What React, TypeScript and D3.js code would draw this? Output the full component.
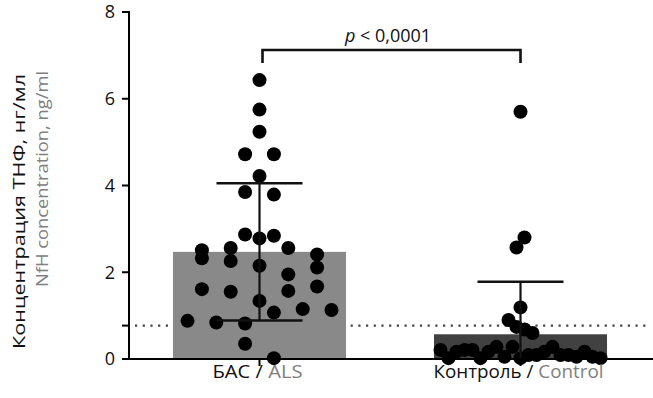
import React from 'react';
import * as d3 from 'd3';

// ---- data ----
const categories = ['ALS', 'Control'];
const labelsRu = ['БАС', 'Контроль'];
const labelsEn = ['ALS', 'Control'];
// individual values, in data-entry order
const alsValues = [
  0.35, 0.02,
  0.88, 0.84, 0.82, 1.07, 1.15, 1.13,
  1.61, 1.55, 1.34, 1.57, 1.67,
  2.32, 2.26, 2.15, 1.95, 2.11,
  2.51, 2.56, 2.78, 2.56, 2.41,
  2.87, 2.84,
  3.85, 3.79,
  4.22,
  4.72, 4.72,
  5.24,
  5.75,
  6.43,
];
const controlValues = [
  0.21, 0.02, 0.17, 0.21, 0.21, 0.02, 0.17, 0.28, 0.05, 0.28, 0.02,
  0.09, 0.09, 0.17, 0.28, 0.09, 0.09, 0.05, 0.17, 0.05, 0.02,
  0.90, 0.74, 0.68, 0.60,
  1.19,
  2.57, 2.80,
  5.70,
];
const means = [2.47, 0.57];
const sds = [1.58, 1.21];
const cutoff = 0.77;
const yTicks = [0, 2, 4, 6, 8];
const pText = '< 0,0001';
const titleRu = 'Концентрация ТНФ, нг/мл';
const titleEn = 'NfH concentration, ng/ml';

// ---- layout ----
const W = 653;
const H = 398;
const axisX = 129;
const yTop = 12;
const yBottom = 359;
const FONT = "'Open Sans', 'Noto Sans', sans-serif";
const GREY = '#808080';
const barColors = ['#898989', '#414141'];
const dotR = 7;
const labelLengths = [90, 170];

// Prism-like row layout: group sorted values into rows, spread each row symmetrically
function rowLayout(values: number[], rowH: number, maxSpacing: number, maxHalf: number) {
  const order = values.map((_, i) => i).sort((a, b) => values[a] - values[b]);
  const rows: number[][] = [];
  let cur: number[] = [];
  let start = -Infinity;
  for (const i of order) {
    if (values[i] - start >= rowH) {
      if (cur.length) rows.push(cur);
      cur = [i];
      start = values[i];
    } else cur.push(i);
  }
  if (cur.length) rows.push(cur);
  rows.forEach((r) => r.sort((a, b) => a - b));
  const maxN = d3.max(rows, (r) => r.length) || 1;
  const spacing = maxN > 1 ? Math.min(maxSpacing, (2 * maxHalf) / (maxN - 1)) : maxSpacing;
  const offsets = new Array(values.length).fill(0);
  rows.forEach((r) => {
    const n = r.length;
    r.forEach((idx, k) => {
      offsets[idx] = (k - (n - 1) / 2) * spacing;
    });
  });
  return offsets;
}

export default function App() {
  const x = d3.scalePoint<string>().domain(categories).range([axisX, 651]).padding(0.5);
  const y = d3.scaleLinear().domain([0, 8]).range([yBottom, yTop]);
  const step = x.step();
  const barW = step * 0.663;
  const capHalf = 43;

  const groups = [alsValues, controlValues];
  const offsets = groups.map((vals) => rowLayout(vals, 0.4, 28.8, 80));

  const xl = x(categories[0])!;
  const xr = x(categories[1])!;
  const bracketY = 50;

  return (
    <svg width={W} height={H} style={{ display: 'block', position: 'absolute', left: 0, top: 0 }} fontFamily={FONT}>
      <rect width={W} height={H} fill="#fff" />
      {/* cutoff dotted line */}
      <line x1={axisX + 6} x2={650} y1={y(cutoff)} y2={y(cutoff)} stroke="#444" strokeWidth={2.2}
        strokeDasharray="2.2 5.5" />
      {/* bars */}
      {categories.map((c, i) => (
        <rect key={c} x={x(c)! - barW / 2} width={barW} y={y(means[i])} height={y(0) - y(means[i])}
          fill={barColors[i]} />
      ))}
      {/* dots */}
      {groups.map((vals, gi) =>
        vals.map((v, j) => (
          <circle key={gi + '-' + j} cx={x(categories[gi])! + offsets[gi][j]} cy={y(v)} r={dotR} fill="#000" />
        ))
      )}
      {/* error bars */}
      {categories.map((c, i) => {
        const cx = x(c)!;
        const hi = means[i] + sds[i];
        const lo = Math.max(0, means[i] - sds[i]);
        return (
          <g key={c} stroke="#111" fill="none">
            <line x1={cx} x2={cx} y1={y(hi)} y2={y(lo)} strokeWidth={2.2} />
            <line x1={cx - capHalf} x2={cx + capHalf} y1={y(hi)} y2={y(hi)} strokeWidth={2.5} />
            {means[i] - sds[i] > 0 && (
              <line x1={cx - capHalf} x2={cx + capHalf} y1={y(lo)} y2={y(lo)} strokeWidth={2.5} />
            )}
          </g>
        );
      })}
      {/* axes */}
      <g stroke="#000" strokeWidth={2} fill="none">
        <line x1={axisX} x2={axisX} y1={yTop - 1} y2={yBottom + 1} />
        <line x1={axisX - 1} x2={W} y1={yBottom} y2={yBottom} />
        {yTicks.map((t) => (
          <line key={t} x1={axisX - 7} x2={axisX} y1={y(t)} y2={y(t)} />
        ))}
        <line x1={axisX - 7} x2={axisX} y1={y(cutoff)} y2={y(cutoff)} />
        {categories.map((c) => (
          <line key={c} x1={x(c)!} x2={x(c)!} y1={yBottom} y2={yBottom + 7} />
        ))}
      </g>
      {yTicks.map((t) => (
        <text key={t} x={115} y={y(t)} dy="0.36em" textAnchor="end" fontSize={18} fill="#111">
          {t}
        </text>
      ))}
      {categories.map((c, i) => (
        <text key={c} x={x(c)! - 2} y={378} textAnchor="middle" fontSize={17.5} fill="#111"
          textLength={labelLengths[i]} lengthAdjust="spacingAndGlyphs">
          {labelsRu[i]} / <tspan fill={GREY}>{labelsEn[i]}</tspan>
        </text>
      ))}
      {/* y title */}
      <text transform={`translate(25, 74) rotate(-90)`} textAnchor="end" fontSize={16.5} fill="#111"
        textLength={275} lengthAdjust="spacingAndGlyphs">
        {titleRu}
      </text>
      <text transform={`translate(48, 71) rotate(-90)`} textAnchor="end" fontSize={16.5} fill={GREY}
        textLength={216} lengthAdjust="spacingAndGlyphs">
        {titleEn}
      </text>
      {/* significance bracket */}
      <path d={`M${xl + 3},${bracketY + 13} V${bracketY} H${xr} V${bracketY + 13}`} stroke="#111"
        strokeWidth={2.6} fill="none" />
      <text x={(xl + xr) / 2 - 2} y={42} textAnchor="middle" fontSize={18} fill="#111">
        <tspan fontStyle="italic">p</tspan> {pText}
      </text>
    </svg>
  );
}
